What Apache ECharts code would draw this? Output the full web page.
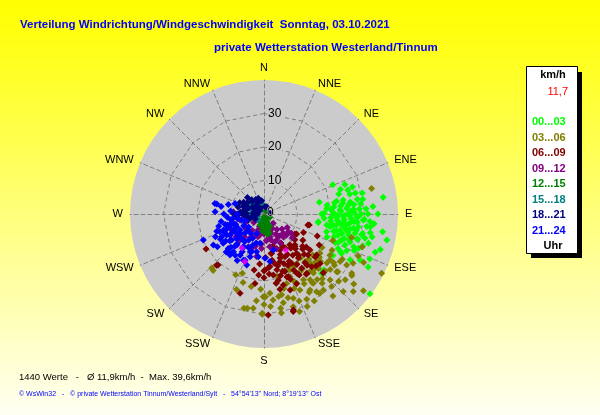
<!DOCTYPE html>
<html>
<head>
<meta charset="utf-8">
<title>Verteilung Windrichtung/Windgeschwindigkeit</title>
<script src="https://cdn.jsdelivr.net/npm/echarts@6/dist/echarts.min.js"></script>
<style>
    html, body { margin: 0; padding: 0; }
    #chart { width: 600px; height: 415px; }
</style>
</head>
<body>
<div id="chart"></div>
<script>
(function (window) {
    "use strict";

    // Himmelsrichtungen im Uhrzeigersinn ab Nord (alle 22,5 Grad)
    var directions = ['N', 'NNE', 'NE', 'ENE', 'E', 'ESE', 'SE', 'SSE',
        'S', 'SSW', 'SW', 'WSW', 'W', 'WNW', 'NW', 'NNW'];
    var speedTicks = [0, 10, 20, 30];
    var speedMax = 40;

    var timeBlocks = ['00...03', '03...06', '06...09', '09...12',
        '12...15', '15...18', '18...21', '21...24'];

    var titleText = 'Verteilung Windrichtung/Windgeschwindigkeit  Sonntag, 03.10.2021';
    var subText = 'private Wetterstation Westerland/Tinnum';
    var currentSpeed = '11,7';
    var statsText = '1440 Werte   -   \u00d8 11,9km/h  -  Max. 39,6km/h';
    var footerText = '\u00a9 WsWin32   -   \u00a9 private Wetterstation Tinnum/Westerland/Sylt   -   54\u00b054\'13\'\' Nord; 8\u00b019\'13\'\' Ost';

    // Messwerte je 3-Stunden-Block: [km/h, Richtung in Grad]
    var h00_03 = [
        [22.3, 67], [25.7, 70], [27.6, 73], [23.1, 75], [26.3, 77], [28.2, 81], [29.8, 81.5], [35.9, 82],
        [21.3, 81], [23.7, 82], [25.3, 84], [16.9, 78], [18.8, 85], [17.2, 90], [20.7, 89], [22.7, 87],
        [24.7, 86], [26.7, 87], [28.5, 87], [30.5, 87], [21.7, 93], [23.7, 92], [25.7, 91], [27.7, 92],
        [29.7, 93.5], [31.7, 94], [16.4, 98], [20.1, 101], [21.9, 98.6], [23.8, 96.7], [25.8, 96], [28.4, 97.7],
        [30.9, 97], [35.8, 98.5], [19.4, 105.8], [21.4, 104], [23.2, 102], [25.7, 102], [27.8, 102], [29.8, 102],
        [32.2, 100], [37.5, 102], [24.5, 108.5], [26.6, 107], [28.7, 105], [31, 103.5], [32.4, 105.7], [24.4, 115],
        [25.9, 111], [28.5, 110], [36.3, 107], [35.1, 109], [24, 121], [25.3, 116], [34.3, 113], [31.8, 115.6],
        [34.9, 117], [24.4, 133], [29.1, 118], [39.6, 127], [24.7, 136], [32.6, 86], [16.4, 99],
        [22, 95], [24, 99], [26, 93], [23, 88], [25, 90], [27, 95], [21, 90], [24, 94], [26, 100], [28, 100],
        [22, 103], [20, 96], [27, 89], [25, 97], [23, 106], [29, 105], [26, 104], [24, 110], [28, 92], [30, 101],
        [19, 82], [20, 86], [21, 84], [22, 80], [23, 84], [24, 80], [26, 82], [27, 84], [29, 84], [31, 90],
        [30, 93], [32, 97], [33, 102], [31, 108], [29, 112], [27, 114], [26, 117], [23, 112], [22, 108], [20, 110],
        [19, 100], [18, 94], [18, 89], [21, 99], [24, 104], [25, 107], [27, 99], [28, 95], [29, 90], [26, 88],
        [24, 91], [22, 91], [20, 93], [23, 97], [25, 101], [27, 108], [30, 110], [33, 95], [34, 90], [28, 77],
        [24, 72], [30, 78], [26, 74]
    ];
    var h03_06 = [
        [18.8, 200], [21.4, 197], [22.5, 182.5], [24.7, 180.5], [23.7, 175.7], [25.8, 174], [24.7, 167.7], [27.1, 167.7],
        [26.6, 160.8], [25.1, 154.7], [28.5, 153.4], [26.5, 148.8], [28, 145.9], [28.8, 142], [25.4, 144.6], [27.9, 135],
        [29.6, 137], [33.1, 134.4], [35.3, 131], [37.5, 127.7], [31.2, 129], [31.6, 124], [25, 135], [25.8, 130],
        [25.4, 125], [21.2, 132], [22.3, 138.6], [20.4, 125], [23.2, 122], [26.8, 122], [29, 121.7], [30.4, 119],
        [30.8, 114], [33.1, 116], [39.3, 116.7], [22.9, 149], [22.9, 154.7], [30.5, 155], [29, 162.5], [28.6, 170],
        [27.7, 176], [28.3, 186.5], [28.6, 190], [29.6, 181], [27.7, 128.4], [23.8, 128], [20.1, 137], [18.8, 139],
        [20.3, 148], [20.3, 157.5], [21.8, 162], [25.2, 141], [17.7, 146.5], [18.4, 155], [22.7, 222], [28.8, 192],
        [22.4, 224], [24.7, 179], [29.9, 181], [33, 76.6], [22, 111], [27.1, 105], [30.9, 108.6],
        [20, 145], [22, 142], [24, 150], [19, 135], [21, 128], [23, 135], [26, 138], [18, 150], [17, 140],
        [22, 156], [25, 133], [24, 145],
        [19, 130], [21, 135], [23, 140], [25, 145], [27, 150], [24, 158], [26, 164], [28, 158], [30, 150], [32, 140],
        [30, 132], [28, 128], [26, 126], [24, 125], [22, 130], [27, 140], [29, 145], [31, 160], [23, 165], [21, 170],
        [25, 170], [27, 180], [30, 170], [26, 185], [22, 190], [20, 205], [24, 200], [27, 120], [32, 125], [34, 128],
        [23, 118], [20, 120], [18, 160], [19, 168]
    ];
    var h06_09 = [
        [11.4, 121.5], [17.2, 112.4], [18.9, 119.3], [15.3, 140.2], [14.2, 153.8], [15, 161.5], [15.8, 173.5], [16.7, 179],
        [18.4, 171.3], [20.2, 167.8], [22, 164.8], [24, 161], [20.1, 158.8], [20.2, 151], [19.7, 145.2], [21.8, 144.2],
        [21.2, 137.9], [22.3, 131.4], [13.4, 136.5], [16.9, 150.7], [11.8, 156], [11.9, 169], [18.3, 160], [30, 163],
        [30.2, 177.6], [24.7, 196.8], [24.9, 134.7], [19.9, 128], [17.1, 167], [16.7, 142], [17.4, 128], [20.8, 222.8],
        [18.3, 185], [20.9, 187.4], [30.4, 163.3], [20.2, 238.9], [20.5, 222], [13.5, 104], [11, 123], [13.9, 103.6],
        [15.6, 132], [14, 150], [15, 145], [13, 158], [16, 140], [17, 155], [12, 148], [18, 147], [16, 165],
        [14, 170], [19, 152], [13, 135], [11, 160], [15, 130], [17, 135], [20, 140], [21, 158], [12, 170],
        [10, 150], [18, 162], [16, 158],
        [12, 130], [13, 142], [14, 160], [15, 168], [16, 175], [17, 180], [18, 175], [19, 165], [20, 160], [21, 150],
        [22, 145], [23, 155], [19, 140], [18, 133], [16, 128], [14, 124], [13, 115], [12, 140], [11, 150], [10, 165],
        [13, 178], [15, 185], [17, 190], [19, 180], [21, 170], [23, 168], [20, 130], [22, 135], [14, 138], [16, 152]
    ];
    var h09_12 = [
        [9.2, 274.3], [7.4, 256], [7, 227], [7.5, 205], [5.9, 191.7], [3.9, 168], [3.9, 135], [6, 162.7],
        [7.3, 148.8], [8.1, 135], [9, 126], [7.8, 174], [10.3, 184], [12.9, 190], [10.8, 205.6], [10.6, 222.7],
        [10.8, 243.6], [10.8, 231], [6.4, 191], [8.6, 154], [9.2, 133], [9.9, 170],
        [5, 170], [6, 180], [4, 200], [7, 165], [8, 175], [5, 150], [6, 215], [9, 160], [3, 190], [7, 195],
        [8, 145], [4, 230],
        [6, 140], [7, 130], [8, 120], [10, 125], [11, 130], [9, 140], [10, 150], [11, 160], [8, 165], [9, 185],
        [10, 195], [11, 200], [8, 210], [9, 220], [7, 235], [6, 245], [5, 200], [4, 180], [6, 160], [7, 150]
    ];
    var h12_15 = [
        [1, 180], [2, 170], [3, 175], [4, 168], [5, 172], [2, 195], [3, 190], [4, 185], [1.5, 150],
        [3, 160], [4.5, 180], [2.5, 205], [5, 165], [3.5, 200], [1, 30], [2, 120], [4, 155], [5.5, 175],
        [3, 165], [4, 175], [5, 178], [6, 172], [2, 180], [3, 185], [4, 162], [5, 185], [6, 165], [2.5, 160]
    ];
    var h15_18 = [
        [4, 320], [3, 300], [2, 280], [3.5, 340], [2, 250], [4, 270], [1.5, 310], [3, 350], [2.5, 225], [5, 295],
        [3, 330], [4, 290], [2, 310], [5, 310], [3, 270]
    ];
    var h18_21 = [
        [5.6, 319], [6.6, 289.5], [8.2, 264], [9.6, 253], [2.3, 20], [1.8, 84], [3.5, 321], [5.2, 272],
        [7.2, 272], [5, 249], [3.2, 274], [1.7, 315], [5.1, 316.5], [2.2, 8],
        [4, 300], [5, 290], [3, 280], [6, 305], [2, 330], [4, 340], [6, 280], [3, 260], [7, 300], [5, 330],
        [2, 300], [4, 255], [8, 285],
        [6, 295], [7, 315], [5, 340], [4, 350], [3, 310], [8, 295], [6, 265], [7, 275], [5, 260], [9, 270],
        [3, 240], [2, 270]
    ];
    var h21_24 = [
        [14.4, 281.9], [14.6, 272.7], [9.2, 290], [9.3, 262], [11.4, 253.3], [13, 248.5], [14.3, 241.8], [17.7, 238.6],
        [19.7, 246.8], [12.8, 240.6], [12.4, 231.2], [12.3, 221.4], [14.5, 219], [14.2, 210], [14.9, 202.4], [16.1, 198.7],
        [15.5, 220.9], [11.5, 212.3], [11.8, 198], [13.4, 198], [11.5, 191], [12.9, 187.6], [8.8, 187.8], [15, 234.3],
        [14.8, 226.1], [10.2, 228.5], [9.9, 218.5], [14.2, 248], [8.6, 236.3], [10.3, 242.5], [6.7, 224.5], [6.2, 200.7],
        [13.2, 178.7], [14.3, 172.8], [11.1, 165.5], [15.9, 219.7], [15.1, 204], [15, 282],
        [10, 235], [11, 228], [9, 245], [12, 238], [8, 225], [13, 232], [10, 215], [11, 250], [12, 222], [9, 210],
        [7, 240], [13, 245], [14, 235], [11, 205], [10, 255], [8, 260], [6, 250], [12, 212], [9, 230], [15, 240],
        [9, 250], [10, 260], [11, 265], [12, 255], [13, 260], [14, 255], [15, 250], [16, 245], [17, 235], [16, 225],
        [15, 215], [13, 210], [12, 200], [10, 200], [9, 195], [8, 205], [7, 215], [6, 230], [7, 255], [8, 270],
        [10, 275], [12, 270], [13, 280], [11, 285], [14, 225], [16, 210], [13, 222], [11, 240], [12, 248], [10, 222]
    ];
    // einzelne hervorgehobene Werte (magenta)
    var highlighted = [[12.6, 149], [15.3, 202], [12.1, 213]];

    var blockData = [h00_03, h03_06, h06_09, h09_12, h12_15, h15_18, h18_21, h21_24];
    var blockColors = ['#00ff00', '#808000', '#800000', '#800080', '#008000', '#008080', '#000080', '#0000ff'];

    var font = '"Liberation Sans", Arial, sans-serif';
    var center = [264, 214];
    var radius = 134;
    var diskColor = '#cbcbcb';
    var gridColor = '#808080';
    var dash = [4, 3];

    /**
     * Reihenfolge der Ebenen:
     * polar 0 (graue Scheibe) -> radar (Netz) -> Punkte -> polar 1 (Skalenwerte)
     */
    var series = blockData.map(function (data, i) {
        return {
            name: timeBlocks[i],
            type: 'scatter',
            coordinateSystem: 'polar',
            polarIndex: 1,
            symbol: 'diamond',
            symbolSize: 7,
            silent: true,
            z: 3,
            itemStyle: { color: blockColors[i], opacity: 1 },
            data: data
        };
    });
    series.push({
        name: 'markiert',
        type: 'scatter',
        coordinateSystem: 'polar',
        polarIndex: 1,
        symbol: 'diamond',
        symbolSize: 7,
        silent: true,
        z: 3,
        itemStyle: { color: '#ff00ff' },
        data: highlighted
    });

    // Radar-Indikatoren laufen gegen den Uhrzeigersinn, deshalb N, NNW, NW ...
    var indicators = [directions[0]].concat(directions.slice(1).reverse()).map(function (name) {
        return { name: name, min: 0, max: speedMax };
    });

    var hiddenAngle = {
        type: 'value', min: 0, max: 360, startAngle: 90, clockwise: true,
        axisLine: { show: false }, axisTick: { show: false },
        axisLabel: { show: false }, splitLine: { show: false }
    };

    // Legende rechts (weisse Box mit schwarzem Schatten)
    var legendItems = [
        { type: 'rect', shape: { x: 531, y: 72, width: 51, height: 186 }, style: { fill: '#000' } },
        { type: 'rect', shape: { x: 526.5, y: 66.5, width: 51, height: 187 }, style: { fill: '#fff', stroke: '#000', lineWidth: 1 } },
        { type: 'text', x: 553, y: 75, style: { text: 'km/h', font: 'bold 11px ' + font, fill: '#000', align: 'center', verticalAlign: 'middle' } },
        { type: 'text', x: 568, y: 92, style: { text: currentSpeed, font: '11px ' + font, fill: '#ff0000', align: 'right', verticalAlign: 'middle' } },
        { type: 'text', x: 553, y: 246, style: { text: 'Uhr', font: 'bold 11px ' + font, fill: '#000', align: 'center', verticalAlign: 'middle' } }
    ];
    timeBlocks.forEach(function (label, i) {
        legendItems.push({
            type: 'text',
            x: 532,
            y: 122 + i * 15.5,
            style: { text: label, font: 'bold 11px ' + font, fill: blockColors[i], verticalAlign: 'middle' }
        });
    });

    var option = {
        animation: false,
        backgroundColor: {
            type: 'linear', x: 0, y: 0, x2: 0, y2: 1,
            colorStops: [
                { offset: 0, color: '#ffff00' },
                { offset: 0.08, color: '#ffff10' },
                { offset: 1, color: '#fffff2' }
            ]
        },
        polar: [
            { center: center, radius: radius },
            { center: center, radius: radius }
        ],
        angleAxis: [
            Object.assign({ polarIndex: 0, z: 0 }, hiddenAngle),
            Object.assign({ polarIndex: 1, z: 4 }, hiddenAngle)
        ],
        radiusAxis: [
            {
                polarIndex: 0,
                type: 'value',
                min: 0,
                max: speedMax,
                interval: 10,
                z: 0,
                axisLine: { show: false },
                axisTick: { show: false },
                axisLabel: { show: false },
                splitLine: { show: false },
                splitArea: { show: true, areaStyle: { color: [diskColor] } }
            },
            {
                polarIndex: 1,
                type: 'value',
                min: 0,
                max: speedMax,
                interval: 10,
                z: 4,
                axisLine: { show: false },
                axisTick: { show: false },
                splitLine: { show: false },
                splitArea: { show: false },
                axisLabel: {
                    showMinLabel: true,
                    align: 'left',
                    margin: -3,
                    color: '#000',
                    fontFamily: font,
                    fontSize: 12,
                    formatter: function (v) {
                        return speedTicks.indexOf(v) > 0 ? '{g|' + v + '}' : '';
                    },
                    rich: {
                        g: { backgroundColor: diskColor, color: '#000', fontFamily: font, fontSize: 12, padding: [0, 1] }
                    }
                }
            }
        ],
        radar: {
            center: center,
            radius: radius,
            startAngle: 90,
            splitNumber: 4,
            shape: 'polygon',
            z: 1,
            indicator: indicators,
            axisName: { color: '#000', fontFamily: font, fontSize: 11 },
            nameGap: 7,
            axisLine: { lineStyle: { color: gridColor, type: dash, width: 1 } },
            splitLine: {
                lineStyle: {
                    color: [gridColor, gridColor, gridColor, gridColor, 'rgba(0,0,0,0)'],
                    type: dash,
                    width: 1
                }
            },
            splitArea: { show: false }
        },
        graphic: [
            { type: 'text', x: 20, y: 25, style: { text: titleText, font: 'bold 11.5px ' + font, fill: '#0000ff', verticalAlign: 'middle' } },
            { type: 'text', x: 214, y: 48, style: { text: subText, font: 'bold 11.5px ' + font, fill: '#0000ff', verticalAlign: 'middle' } },
            { type: 'text', x: 19, y: 377, style: { text: statsText, font: '9.5px ' + font, fill: '#000', verticalAlign: 'middle' } },
            { type: 'text', x: 19, y: 394, style: { text: footerText, font: '7px ' + font, fill: '#0000ff', verticalAlign: 'middle' } },
            // Nullpunkt-Beschriftung der Skala in der Mitte
            {
                type: 'text', x: center[0] + 3, y: center[1] - 1, z: 10,
                style: { text: String(speedTicks[0]), font: '12px ' + font, fill: '#000', stroke: '#cbcbcb', lineWidth: 1, verticalAlign: 'middle' }
            }
        ].concat(legendItems),
        series: series
    };

    var chart = window.echarts.init(document.getElementById('chart'));
    chart.setOption(option);

})(window);
</script>
</body>
</html>
